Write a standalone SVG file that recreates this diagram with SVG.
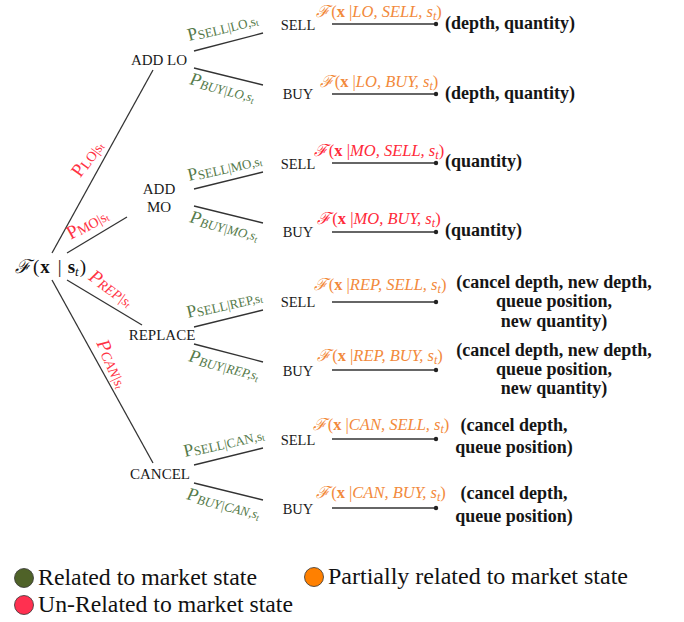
<svg xmlns="http://www.w3.org/2000/svg" width="684" height="622" viewBox="0 0 684 622">
<style>
text{font-family:"Liberation Serif","Times New Roman",serif}
.ln{stroke:#333;stroke-width:1.3;fill:none}
.ar{stroke:#333;stroke-width:1.3}
.dot{fill:#222}
.nd{font-size:15px;fill:#1a1a1a}
.lf{font-size:14.5px;fill:#1a1a1a}
.res{font-family:"Liberation Serif",serif;font-size:18px;font-weight:bold;fill:#151515}
.fo{font-size:16.5px;fill:#F28A3C}
.fr{font-size:16.5px;fill:#FF2A3A}
.pg{font-size:18px;fill:#557A4A}
.pr{font-size:19px;fill:#FF3344}
.scr{font-family:"DejaVu Serif",serif;font-style:italic}
.b{font-weight:bold;font-style:normal}
.i{font-style:italic}
.sub{font-size:12px}
.sc{font-size:13px}
.sr{font-size:14px}
.st{font-size:9.5px}
.leg{font-size:23px;fill:#111}
</style>
<g id="connectors">
  <line class="ln" x1="52" y1="253" x2="153" y2="70"/>
  <line class="ln" x1="67" y1="253" x2="127" y2="217"/>
  <line class="ln" x1="67" y1="280" x2="142" y2="325"/>
  <line class="ln" x1="52" y1="280" x2="153" y2="463"/>
  <line class="ln" x1="194" y1="51" x2="263" y2="33"/>
  <line class="ln" x1="194" y1="68" x2="263" y2="85"/>
  <line class="ln" x1="194" y1="189" x2="263" y2="172"/>
  <line class="ln" x1="194" y1="206" x2="263" y2="223"/>
  <line class="ln" x1="194" y1="327" x2="263" y2="310"/>
  <line class="ln" x1="194" y1="344" x2="263" y2="362"/>
  <line class="ln" x1="194" y1="465" x2="263" y2="448"/>
  <line class="ln" x1="194" y1="483" x2="263" y2="500"/>
  <text class="pr" text-anchor="middle" transform="translate(92,162) rotate(-54)">P<tspan class="sr" dy="1">LO|s</tspan><tspan class="st" dy="1">t</tspan></text>
  <text class="pr" text-anchor="middle" transform="translate(90,229) rotate(-29)">P<tspan class="sr" dy="1">MO|s</tspan><tspan class="st" dy="1">t</tspan></text>
  <text class="pr i" text-anchor="middle" transform="translate(108,293) rotate(35)">P<tspan class="sr" dy="1">REP|s</tspan><tspan class="st" dy="1">t</tspan></text>
  <text class="pr i" text-anchor="middle" transform="translate(107,366) rotate(65)">P<tspan class="sr" dy="1">CAN|s</tspan><tspan class="st" dy="1">t</tspan></text>
  <text class="pg" transform="translate(189,41) rotate(-14)">P<tspan class="sc" dy="1">SELL|LO,s</tspan><tspan class="st" dy="1">t</tspan></text>
  <text class="pg i" transform="translate(189,84) rotate(14)">P<tspan class="sc" dy="2">BUY|LO,s</tspan><tspan class="st" dy="2">t</tspan></text>
  <text class="pg" transform="translate(189,181) rotate(-13)">P<tspan class="sc" dy="1">SELL|MO,s</tspan><tspan class="st" dy="1">t</tspan></text>
  <text class="pg i" transform="translate(189,222) rotate(14)">P<tspan class="sc" dy="2">BUY|MO,s</tspan><tspan class="st" dy="2">t</tspan></text>
  <text class="pg" transform="translate(188,318) rotate(-13)">P<tspan class="sc" dy="1">SELL|REP,s</tspan><tspan class="st" dy="1">t</tspan></text>
  <text class="pg i" transform="translate(188,361) rotate(14)">P<tspan class="sc" dy="2">BUY|REP,s</tspan><tspan class="st" dy="2">t</tspan></text>
  <text class="pg" transform="translate(185,457) rotate(-13)">P<tspan class="sc" dy="1">SELL|CAN,s</tspan><tspan class="st" dy="1">t</tspan></text>
  <text class="pg i" transform="translate(186,499) rotate(14)">P<tspan class="sc" dy="2">BUY|CAN,s</tspan><tspan class="st" dy="2">t</tspan></text>
  <g id="arrows">
    <line class="ar" x1="332" y1="24" x2="436" y2="24"/><circle class="dot" cx="436" cy="24" r="2.2"/>
    <line class="ar" x1="332" y1="94" x2="436" y2="94"/><circle class="dot" cx="436" cy="94" r="2.2"/>
    <line class="ar" x1="332" y1="163" x2="436" y2="163"/><circle class="dot" cx="436" cy="163" r="2.2"/>
    <line class="ar" x1="332" y1="232" x2="436" y2="232"/><circle class="dot" cx="436" cy="232" r="2.2"/>
    <line class="ar" x1="332" y1="302" x2="436" y2="302"/><circle class="dot" cx="436" cy="302" r="2.2"/>
    <line class="ar" x1="332" y1="370" x2="436" y2="370"/><circle class="dot" cx="436" cy="370" r="2.2"/>
    <line class="ar" x1="332" y1="439" x2="436" y2="439"/><circle class="dot" cx="436" cy="439" r="2.2"/>
    <line class="ar" x1="332" y1="508" x2="436" y2="508"/><circle class="dot" cx="436" cy="508" r="2.2"/>
  </g>
  <text class="fo" x="379" y="17" text-anchor="middle"><tspan class="scr">ℱ</tspan><tspan dx="1">(</tspan><tspan class="b">x</tspan> |<tspan class="i">LO, SELL, s</tspan><tspan class="i sub" dy="3">t</tspan><tspan dy="-3">)</tspan></text>
  <text class="fo" x="379" y="87" text-anchor="middle"><tspan class="scr">ℱ</tspan><tspan dx="1">(</tspan><tspan class="b">x</tspan> |<tspan class="i">LO, BUY, s</tspan><tspan class="i sub" dy="3">t</tspan><tspan dy="-3">)</tspan></text>
  <text class="fr" x="379" y="156" text-anchor="middle"><tspan class="scr">ℱ</tspan><tspan dx="1">(</tspan><tspan class="b">x</tspan> |<tspan class="i">MO, SELL, s</tspan><tspan class="i sub" dy="3">t</tspan><tspan dy="-3">)</tspan></text>
  <text class="fr" x="379" y="224" text-anchor="middle"><tspan class="scr">ℱ</tspan><tspan dx="1">(</tspan><tspan class="b">x</tspan> |<tspan class="i">MO, BUY, s</tspan><tspan class="i sub" dy="3">t</tspan><tspan dy="-3">)</tspan></text>
  <text class="fo" x="380" y="290" text-anchor="middle"><tspan class="scr">ℱ</tspan><tspan dx="1">(</tspan><tspan class="b">x</tspan> |<tspan class="i">REP, SELL, s</tspan><tspan class="i sub" dy="3">t</tspan><tspan dy="-3">)</tspan></text>
  <text class="fo" x="380" y="361" text-anchor="middle"><tspan class="scr">ℱ</tspan><tspan dx="1">(</tspan><tspan class="b">x</tspan> |<tspan class="i">REP, BUY, s</tspan><tspan class="i sub" dy="3">t</tspan><tspan dy="-3">)</tspan></text>
  <text class="fo" x="381" y="430" text-anchor="middle"><tspan class="scr">ℱ</tspan><tspan dx="1">(</tspan><tspan class="b">x</tspan> |<tspan class="i">CAN, SELL, s</tspan><tspan class="i sub" dy="3">t</tspan><tspan dy="-3">)</tspan></text>
  <text class="fo" x="381" y="498" text-anchor="middle"><tspan class="scr">ℱ</tspan><tspan dx="1">(</tspan><tspan class="b">x</tspan> |<tspan class="i">CAN, BUY, s</tspan><tspan class="i sub" dy="3">t</tspan><tspan dy="-3">)</tspan></text>
</g>
<g id="root">
  <text x="15" y="273" font-size="19" fill="#111"><tspan class="scr">ℱ</tspan><tspan dx="2">(</tspan><tspan dx="1" class="b">x</tspan><tspan dx="8">|</tspan><tspan dx="6" class="b">s</tspan><tspan class="i" font-size="13" dy="3">t</tspan><tspan dx="1" dy="-3">)</tspan></text>
</g>
<g id="add-lo"><text class="nd" x="159" y="65" text-anchor="middle">ADD LO</text></g>
<g id="add-mo"><text class="nd" x="159" y="194" text-anchor="middle">ADD</text><text class="nd" x="159" y="212" text-anchor="middle">MO</text></g>
<g id="replace"><text class="nd" x="162" y="340" text-anchor="middle">REPLACE</text></g>
<g id="cancel"><text class="nd" x="160" y="479" text-anchor="middle">CANCEL</text></g>
<g id="lo-sell"><text class="lf" x="298" y="30" text-anchor="middle">SELL</text></g>
<g id="lo-buy"><text class="lf" x="298" y="99" text-anchor="middle">BUY</text></g>
<g id="mo-sell"><text class="lf" x="298" y="169" text-anchor="middle">SELL</text></g>
<g id="mo-buy"><text class="lf" x="298" y="237" text-anchor="middle">BUY</text></g>
<g id="rep-sell"><text class="lf" x="298" y="307" text-anchor="middle">SELL</text></g>
<g id="rep-buy"><text class="lf" x="298" y="376" text-anchor="middle">BUY</text></g>
<g id="can-sell"><text class="lf" x="298" y="445" text-anchor="middle">SELL</text></g>
<g id="can-buy"><text class="lf" x="298" y="514" text-anchor="middle">BUY</text></g>
<g id="res-lo-sell"><text class="res" x="445" y="29">(depth, quantity)</text></g>
<g id="res-lo-buy"><text class="res" x="445" y="99">(depth, quantity)</text></g>
<g id="res-mo-sell"><text class="res" x="445" y="167">(quantity)</text></g>
<g id="res-mo-buy"><text class="res" x="445" y="236">(quantity)</text></g>
<g id="res-rep-sell"><text class="res" text-anchor="middle"><tspan x="554" y="288">(cancel depth, new depth,</tspan><tspan x="554" y="307">queue position,</tspan><tspan x="554" y="327">new quantity)</tspan></text></g>
<g id="res-rep-buy"><text class="res" text-anchor="middle"><tspan x="554" y="356">(cancel depth, new depth,</tspan><tspan x="554" y="375">queue position,</tspan><tspan x="554" y="394">new quantity)</tspan></text></g>
<g id="res-can-sell"><text class="res" text-anchor="middle"><tspan x="514" y="431">(cancel depth,</tspan><tspan x="514" y="453">queue position)</tspan></text></g>
<g id="res-can-buy"><text class="res" text-anchor="middle"><tspan x="514" y="499">(cancel depth,</tspan><tspan x="514" y="522">queue position)</tspan></text></g>
<g id="legend">
  <circle cx="24" cy="578" r="9.5" fill="#4F6228" stroke="#333" stroke-width="0.8"/>
  <text class="leg" x="38" y="585" textLength="219" lengthAdjust="spacingAndGlyphs">Related to market state</text>
  <circle cx="314" cy="577" r="9.5" fill="#FF8000" stroke="#333" stroke-width="0.8"/>
  <text class="leg" x="328" y="584" textLength="300" lengthAdjust="spacingAndGlyphs">Partially related to market state</text>
  <circle cx="24" cy="605" r="9.5" fill="#FF3050" stroke="#333" stroke-width="0.8"/>
  <text class="leg" x="38" y="612" textLength="255" lengthAdjust="spacingAndGlyphs">Un-Related to market state</text>
</g>
</svg>
